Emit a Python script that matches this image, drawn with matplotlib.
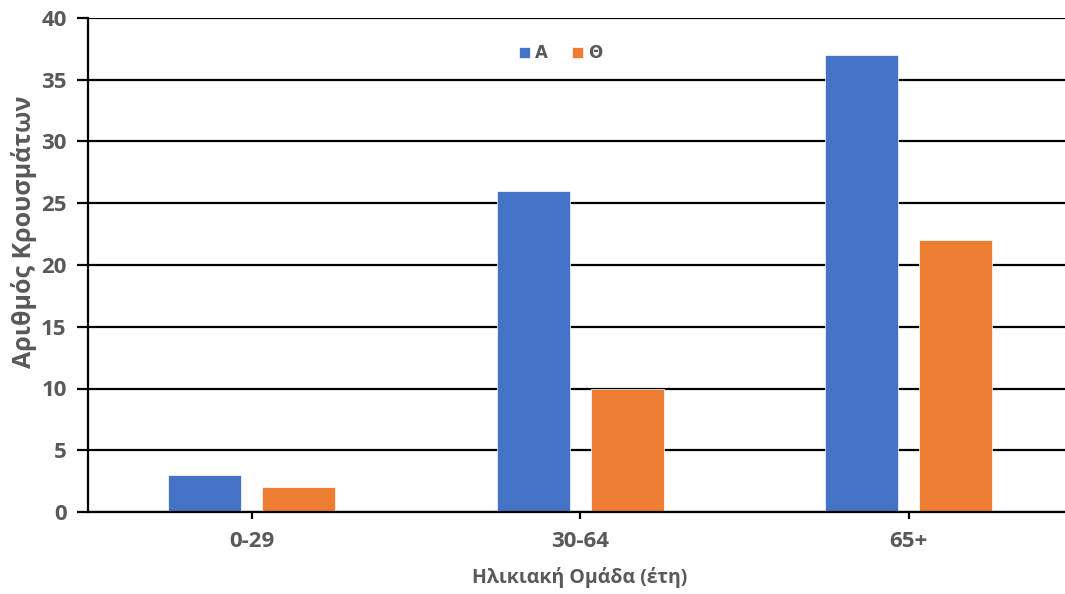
import matplotlib
matplotlib.use("Agg")
import matplotlib.pyplot as plt
import numpy as np

categories = ["0-29", "30-64", "65+"]
series_names = ["Α", "Θ"]
values_A = [3, 26, 37]
values_Th = [2, 10, 22]
yticks = [0, 5, 10, 15, 20, 25, 30, 35, 40]

colors = ["#4472C4", "#ED7D31"]
gray = "#595959"
fam = ["Open Sans", "DejaVu Sans"]

fig = plt.figure(figsize=(10.65, 5.94), dpi=100)
ax = fig.add_axes([87.5/1065, 82/594, 985.5/1065, 494/594])

x = np.arange(len(categories))
w = 0.222
off = 0.143
ax.bar(x - off, values_A, w, color=colors[0], label=series_names[0], zorder=3,
       edgecolor="white", linewidth=0.5)
ax.bar(x + off, values_Th, w, color=colors[1], label=series_names[1], zorder=3,
       edgecolor="white", linewidth=0.5)

ax.set_xlim(-0.5, 2.5)
ax.set_ylim(0, 40)
ax.set_yticks(yticks)
ax.set_xticks(x)
ax.set_xticklabels(categories)
ax.yaxis.grid(True, color="black", linewidth=1.6, zorder=0)
ax.set_axisbelow(True)
for s in ["top", "right"]:
    ax.spines[s].set_visible(False)
for s in ["left", "bottom"]:
    ax.spines[s].set_linewidth(1.6)
    ax.spines[s].set_color("black")
    ax.spines[s].set_zorder(4)
ax.tick_params(axis="y", length=8, width=1.6, colors="black", labelcolor=gray, pad=7)
ax.tick_params(axis="x", length=5, width=1.6, colors="black", labelcolor=gray, pad=9)
for lab in ax.get_xticklabels() + ax.get_yticklabels():
    lab.set_fontfamily(fam)
    lab.set_fontweight("bold")
    lab.set_fontsize(16)

ax.set_xlabel("Ηλικιακή Ομάδα (έτη)", fontsize=14, fontweight="bold", color=gray,
              family=fam)
ax.xaxis.set_label_coords((580 - 87.5) / 985.5, (512 - 578) / 494)
ax.xaxis.label.set_verticalalignment("center")
ax.set_ylabel("Αριθμός Κρουσμάτων", fontsize=18, fontweight="bold", color=gray,
              family=fam)
ax.yaxis.set_label_coords((24 - 87.5) / 985.5, (512 - 232) / 494)
ax.yaxis.label.set_verticalalignment("center")

leg = ax.legend(loc="center", bbox_to_anchor=(561/1065, 1 - 53/594),
                bbox_transform=fig.transFigure, ncol=2, frameon=False,
                handlelength=0.66, handleheight=0.66, handletextpad=0.3,
                columnspacing=1.45, borderpad=0,
                prop={"family": ["DejaVu Sans"], "weight": "bold", "size": 12})
for t in leg.get_texts():
    t.set_color(gray)

fig.savefig("out.png", dpi=100)
